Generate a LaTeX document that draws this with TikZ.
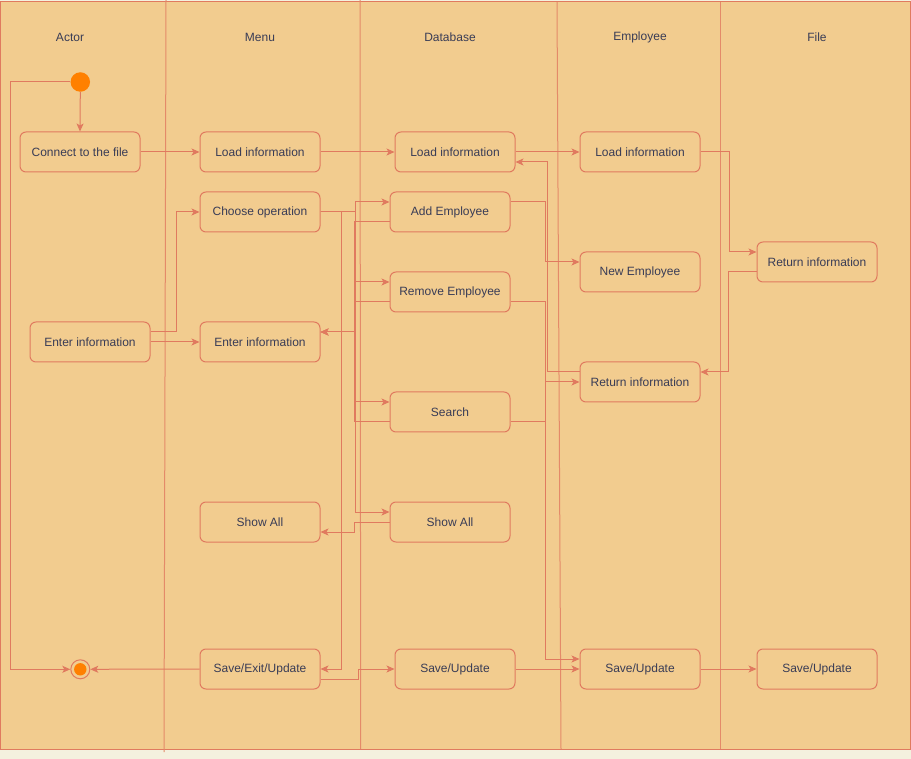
\documentclass[tikz,border=0pt]{standalone}
\usepackage{fontspec}
\setmainfont{Liberation Sans}
\usetikzlibrary{arrows.meta,calc}
\definecolor{peach}{HTML}{F2CC8F}
\definecolor{strk}{HTML}{E07A5F}
\definecolor{ink}{HTML}{393C56}
\definecolor{cream}{HTML}{F4F1DE}
\definecolor{orng}{HTML}{FF8000}
\colorlet{lanec}{strk!80!peach}
\newcommand{\fs}{\fontsize{12}{14}\selectfont}
\begin{document}
\begin{tikzpicture}[x=1pt,y=-1pt,
  box/.style={draw=strk, fill=peach, line width=1pt, rounded corners=6pt, minimum width=120pt, minimum height=40pt, inner sep=0pt, text=ink, font=\fs},
  head/.style={text=ink, font=\fs, inner sep=0pt},
  flow/.style={draw=strk, line width=1pt, -{Stealth[length=8pt,width=7pt,inset=2pt]}},
  lane/.style={draw=lanec, line width=1pt}]
\useasboundingbox (0,0) rectangle (911,759);
\fill[cream] (0,0) rectangle (911,759);
\draw[fill=peach, draw=strk, line width=1pt] (0.5,2) rectangle (910.3,749);
% lanes
\draw[lane] (166,0) -- (164,752);
\draw[lane] (360,0) -- (360.7,749);
\draw[lane] (557,2) -- (561,749);
\draw[lane] (720,2) -- (720,749);
% headers
\node[head] (hactor) at (70,37) {Actor};
\node[head] (hmenu) at (260,37) {Menu};
\node[head] (hdb) at (450,37) {Database};
\node[head] (hemp) at (640,37) {Employee};
\node[head] (hfile) at (817,37) {File};
% start / end
\node[circle, fill=orng, minimum size=19.5pt, inner sep=0pt] (start) at (80.3,82) {};
\node[circle, draw=strk, fill=peach, line width=1pt, minimum size=19pt, inner sep=0pt] (end) at (80.3,669.3) {};
\fill[orng] (end.center) circle (6.2);
% boxes
\node[box] (connect) at (80,152) {Connect to the file};
\node[box] (loadm) at (260,152) {Load information};
\node[box] (loaddb) at (455,152) {Load information};
\node[box] (loademp) at (640,152) {Load information};
\node[box] (choose) at (260,212) {Choose operation};
\node[box] (addemp) at (450,212) {Add Employee};
\node[box] (newemp) at (640,272) {New Employee};
\node[box] (retfile) at (817,262) {Return information};
\node[box] (rememp) at (450,292) {Remove Employee};
\node[box] (enterA) at (90,342) {Enter information};
\node[box] (enterM) at (260,342) {Enter information};
\node[box] (retemp) at (640,382) {Return information};
\node[box] (search) at (450,412) {Search};
\node[box] (showm) at (260,522) {Show All};
\node[box] (showdb) at (450,522) {Show All};
\node[box] (saveexit) at (260,669) {Save/Exit/Update};
\node[box] (savedb) at (455,669) {Save/Update};
\node[box] (saveemp) at (640,669) {Save/Update};
\node[box] (savefile) at (817,669) {Save/Update};
% edges
\draw[flow] (start.south) -- (connect.north);
\draw[flow] (start.west) -- ++(-60,0) |- (end.west);
\draw[flow] (connect) -- (loadm);
\draw[flow] (loadm) -- (loaddb);
\draw[flow] (loaddb) -- (loademp);
\draw[flow] (loademp.east) -- ++(29,0) |- ([yshift=10pt]retfile.west);
\draw[flow] ([yshift=-10pt]retfile.west) -- ++(-28,0) |- ([yshift=10pt]retemp.east);
\draw[flow] ([yshift=10pt]enterA.east) -- ++(26,0) |- (choose.west);
\draw[flow] (enterA) -- (enterM);
\draw[flow] (choose.east) -- ++(35,0) |- ([yshift=10pt]addemp.west);
\draw[flow] (choose.east) -- ++(35,0) |- ([yshift=10pt]rememp.west);
\draw[flow] (choose.east) -- ++(35,0) |- ([yshift=10pt]search.west);
\draw[flow] (choose.east) -- ++(35,0) |- ([yshift=10pt]showdb.west);
\draw[flow] (choose.east) -- ++(20.5,0) |- (saveexit.east);
\draw[flow] ([yshift=-10pt]addemp.west) -- ++(-35,0) |- ([yshift=10pt]enterM.east);
\draw[flow] ([yshift=-10pt]rememp.west) -- ++(-35,0) |- ([yshift=10pt]enterM.east);
\draw[flow] ([yshift=-10pt]search.west) -- ++(-35,0) |- ([yshift=10pt]enterM.east);
\draw[flow] (showdb.west) -- ++(-35,0) |- ([yshift=-10pt]showm.east);
\draw[flow] ([yshift=-10pt]saveexit.east) -- ++(38,0) |- (savedb.west);
\draw[flow] (saveexit.west) -- (end.east);
\draw[flow] ([yshift=10pt]addemp.east) -- ++(35,0) |- ([yshift=10pt]newemp.west);
\draw[flow] ([yshift=10pt]retemp.west) -- ++(-32,0) |- ([yshift=-10pt]loaddb.east);
\draw[flow] ([yshift=-10pt]rememp.east) -- ++(35,0) |- ([yshift=10pt]saveemp.west);
\draw[flow] ([yshift=-10pt]search.east) -- ++(35,0) |- (retemp.west);
\draw[flow] (savedb) -- (saveemp);
\draw[flow] (saveemp) -- (savefile);
\end{tikzpicture}
\end{document}
